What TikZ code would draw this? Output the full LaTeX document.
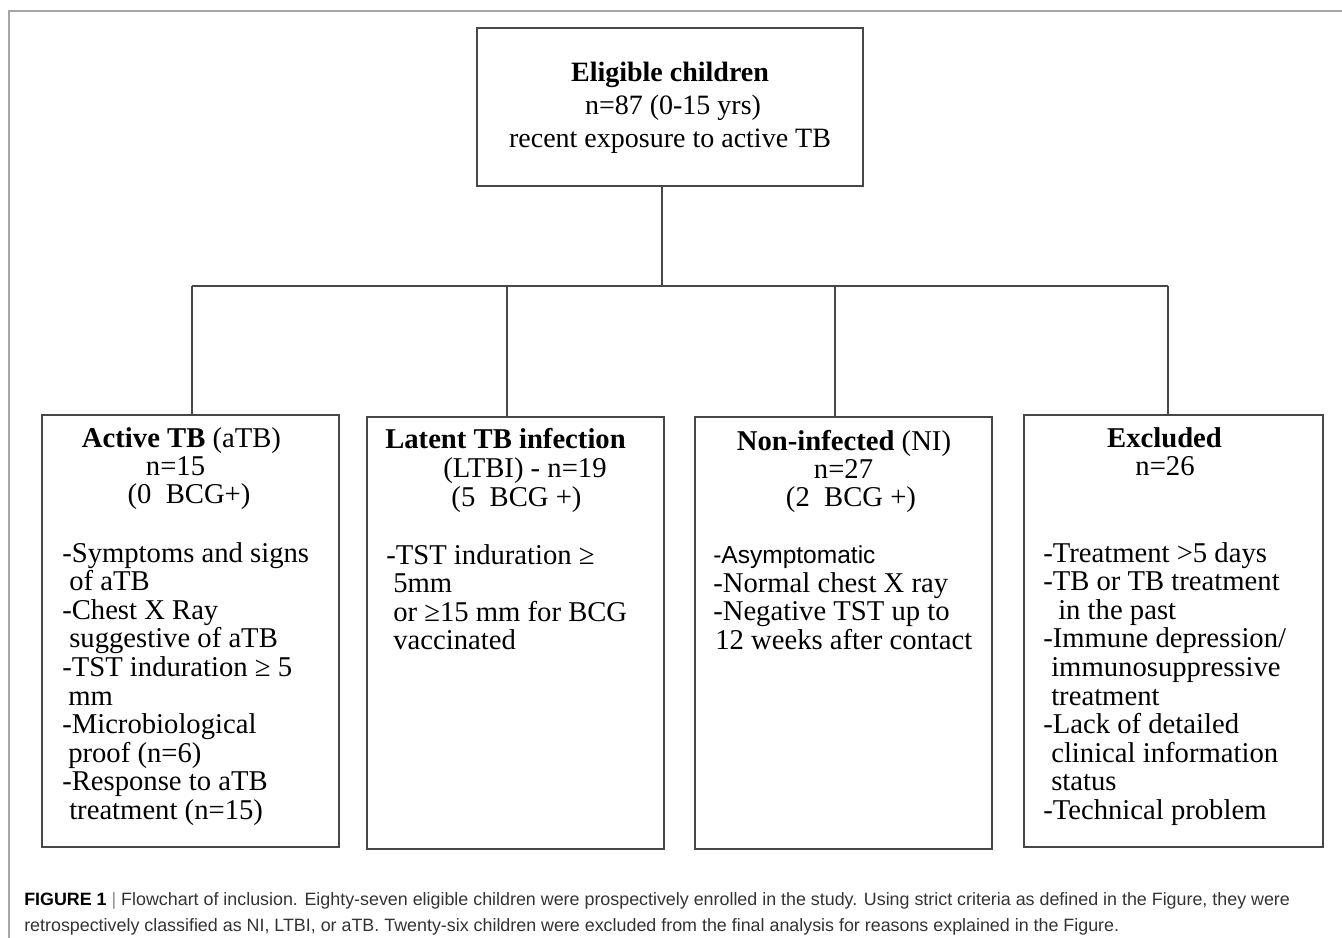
\documentclass[tikz,border=0pt]{standalone}
\usepackage{fontspec}
\setmainfont{Liberation Serif}
\newfontfamily\capfont{Liberation Sans}
\newfontfamily\sansbody{Liberation Sans}
\newdimen\pxu \pxu=0.75pt
\tikzset{
  boxst/.style={draw=black!72, line width=1.5\pxu, rectangle, inner sep=0pt, fill=none},
  link/.style={draw=black!72, line width=1.5\pxu},
  body/.style={inner sep=0pt, font=\fontsize{21.5}{21.5}\selectfont, text=black},
  sbody/.style={inner sep=0pt, font=\sansbody\fontsize{18.4}{18.4}\selectfont, text=black},
  toptext/.style={inner sep=0pt, font=\fontsize{21}{21}\selectfont, text=black},
  captext/.style={inner sep=0pt, font=\capfont\fontsize{13.4}{13.4}\selectfont, text=black!80},
}
\begin{document}
\begin{tikzpicture}[x=0.75pt,y=-0.75pt]
\useasboundingbox (0,0) rectangle (1342,938);
% outer frame
\draw[black!35, line width=2\pxu] (9,938) -- (9,11) -- (1342,11);
% boxes
\node[boxst, minimum width=386\pxu, minimum height=158\pxu] (top) at (670,107) {};
\node[boxst, minimum width=297\pxu, minimum height=432\pxu] (b1) at (190.5,631) {};
\node[boxst, minimum width=297\pxu, minimum height=432\pxu] (b2) at (515.5,633) {};
\node[boxst, minimum width=297\pxu, minimum height=432\pxu] (b3) at (843.5,633) {};
\node[boxst, minimum width=299\pxu, minimum height=432\pxu] (b4) at (1173.5,631) {};
% connectors
\coordinate (j0) at (662,286);
\coordinate (j1) at (192,286);
\coordinate (j2) at (507,286);
\coordinate (j3) at (835,286);
\coordinate (j4) at (1168,286);
\draw[link] (top.south -| j0) -- (j0);
\draw[link] (j1) -- (j4);
\draw[link] (j1) -- (j1 |- b1.north);
\draw[link] (j2) -- (j2 |- b2.north);
\draw[link] (j3) -- (j3 |- b3.north);
\draw[link] (j4) -- (j4 |- b4.north);
% top box text
\node[toptext, anchor=base] (t1) at (670,82) {\bfseries Eligible children};
\node[toptext, anchor=base] (t2) at (673,115) {n=87 (0-15 yrs)};
\node[toptext, anchor=base] (t3) at (670,148) {recent exposure to active TB};
% box 1
\node[body, anchor=base] (a1) at (181.5,447) {\textbf{Active TB} (aTB)};
\node[body, anchor=base] (a2) at (175.5,475) {n=15};
\node[body, anchor=base] (a3) at (189,503) {(0\ \ BCG+)};
\node[body, anchor=base west] (a4) at (62,562) {-Symptoms and signs};
\node[body, anchor=base west] (a5) at (69,590.6) {of aTB};
\node[body, anchor=base west] (a6) at (62,619.2) {-Chest X Ray};
\node[body, anchor=base west] (a7) at (69,647.8) {suggestive of aTB};
\node[body, anchor=base west] (a8) at (62,676.4) {-TST induration ≥ 5};
\node[body, anchor=base west] (a9) at (68,705) {mm};
\node[body, anchor=base west] (a10) at (62,733.6) {-Microbiological};
\node[body, anchor=base west] (a11) at (68,762.2) {proof (n=6)};
\node[body, anchor=base west] (a12) at (62,790.8) {-Response to aTB};
\node[body, anchor=base west] (a13) at (69,819.4) {treatment (n=15)};
% box 2
\node[body, anchor=base] (l1) at (505.5,448) {\textbf{Latent TB infection}};
\node[body, anchor=base] (l2) at (525,477) {(LTBI) - n=19};
\node[body, anchor=base] (l3) at (516.5,506) {(5\ \ BCG +)};
\node[body, anchor=base west] (l4) at (386,564) {-TST induration ≥};
\node[body, anchor=base west] (l5) at (393,592.6) {5mm};
\node[body, anchor=base west] (l6) at (393,621.2) {or ≥15 mm for BCG};
\node[body, anchor=base west] (l7) at (393,649.8) {vaccinated};
% box 3
\node[body, anchor=base] (n1) at (844,450) {\textbf{Non-infected} (NI)};
\node[body, anchor=base] (n2) at (843.5,478) {n=27};
\node[body, anchor=base] (n3) at (851,506) {(2\ \ BCG +)};
\node[sbody, anchor=base west] (n4) at (713,563) {-Asymptomatic};
\node[body, anchor=base west] (n5) at (713,592) {-Normal chest X ray};
\node[body, anchor=base west] (n6) at (713,620.6) {-Negative TST up to};
\node[body, anchor=base west] (n7) at (715,649.2) {12 weeks after contact};
% box 4
\node[body, anchor=base] (e1) at (1164.5,447) {\textbf{Excluded}};
\node[body, anchor=base] (e2) at (1165,475) {n=26};
\node[body, anchor=base west] (e3) at (1043,562) {-Treatment >5 days};
\node[body, anchor=base west] (e4) at (1043,590.6) {-TB or TB treatment};
\node[body, anchor=base west] (e5) at (1058,619.2) {in the past};
\node[body, anchor=base west] (e6) at (1043,647.8) {-Immune depression/};
\node[body, anchor=base west] (e7) at (1051,676.4) {immunosuppressive};
\node[body, anchor=base west] (e8) at (1051,705) {treatment};
\node[body, anchor=base west] (e9) at (1043,733.6) {-Lack of detailed};
\node[body, anchor=base west] (e10) at (1051,762.2) {clinical information};
\node[body, anchor=base west] (e11) at (1051,790.8) {status};
\node[body, anchor=base west] (e12) at (1043,819.4) {-Technical problem};
% caption
\node[captext, anchor=base west] (c1) at (24,905) {\textbf{\color{black}FIGURE 1} {\color{black!45}|} Flowchart of inclusion. Eighty-seven eligible children were prospectively enrolled in the study. Using strict criteria as defined in the Figure, they were};
\node[captext, anchor=base west] (c2) at (24,931) {retrospectively classified as NI, LTBI, or aTB. Twenty-six children were excluded from the final analysis for reasons explained in the Figure.};
\end{tikzpicture}
\end{document}
